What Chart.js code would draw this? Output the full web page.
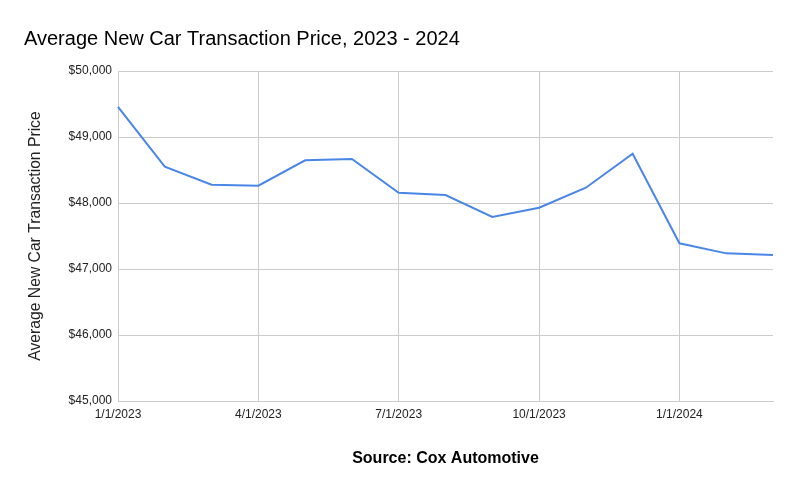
<!DOCTYPE html>
<html lang="en">
<head>
    <meta charset="UTF-8">
    <title>Average New Car Transaction Price</title>
    <script src="https://cdn.jsdelivr.net/npm/chart.js"></script>
    <style>
        body { margin: 0; background: #fff; }
    </style>
</head>
<body>
    <canvas id="priceChart" width="798" height="494"></canvas>

    <script>
        // Monthly data, Jan 2023 - Mar 2024
        const months = ['1/1/2023', '2/1/2023', '3/1/2023', '4/1/2023', '5/1/2023', '6/1/2023', '7/1/2023',
            '8/1/2023', '9/1/2023', '10/1/2023', '11/1/2023', '12/1/2023', '1/1/2024', '2/1/2024', '3/1/2024'];
        const avgPrice = [49455, 48550, 48277, 48262, 48647, 48667, 48156,
            48121, 47788, 47929, 48232, 48747, 47390, 47237, 47212];
        const yTicks = [45000, 46000, 47000, 48000, 49000, 50000];

        const font = "'Liberation Sans', Arial, sans-serif";
        const gridColor = '#cccccc';

        new Chart(document.getElementById('priceChart').getContext('2d'), {
            type: 'line',
            data: {
                labels: months,
                datasets: [{
                    label: 'Average New Car Transaction Price',
                    data: avgPrice,
                    borderColor: '#4a86e8',
                    borderWidth: 2,
                    pointRadius: 0,
                    tension: 0,
                    fill: false
                }]
            },
            options: {
                responsive: false,
                animation: false,
                layout: { padding: { left: 24, right: 25, top: 0, bottom: 0 } },
                plugins: {
                    legend: { display: false },
                    tooltip: { enabled: false },
                    title: {
                        display: true,
                        text: 'Average New Car Transaction Price, 2023 - 2024',
                        align: 'start',
                        color: '#000',
                        font: { family: font, size: 20, weight: 'normal' },
                        padding: { top: 27, bottom: 20 }
                    }
                },
                scales: {
                    x: {
                        offset: false,
                        grid: {
                            drawTicks: false,
                            color: ctx => (ctx.index % 3 === 0 && ctx.index < months.length - 1) ? gridColor : 'transparent'
                        },
                        border: { color: gridColor },
                        ticks: {
                            autoSkip: false,
                            maxRotation: 0,
                            padding: 6,
                            color: '#222',
                            font: { family: font, size: 12 },
                            callback: function (val, i) { return i % 3 === 0 ? months[i] : ''; }
                        },
                        title: {
                            display: true,
                            text: 'Source: Cox Automotive',
                            color: '#000',
                            font: { family: font, size: 16, weight: 'bold' },
                            padding: { top: 0, bottom: 26 }
                        },
                        afterFit: scale => { scale.height = 93; }
                    },
                    y: {
                        min: yTicks[0],
                        max: yTicks[yTicks.length - 1],
                        afterBuildTicks: scale => { scale.ticks = yTicks.map(v => ({ value: v })); },
                        grid: { drawTicks: false, color: gridColor },
                        border: { color: gridColor },
                        ticks: {
                            padding: 6,
                            color: '#222',
                            font: { family: font, size: 12 },
                            callback: v => '$' + v.toLocaleString('en-US')
                        },
                        title: {
                            display: true,
                            text: 'Average New Car Transaction Price',
                            color: '#222',
                            font: { family: font, size: 15.7 },
                            padding: { top: 2, bottom: 0 }
                        },
                        afterFit: scale => { scale.width = 94; }
                    }
                }
            }
        });
    </script>
</body>
</html>
